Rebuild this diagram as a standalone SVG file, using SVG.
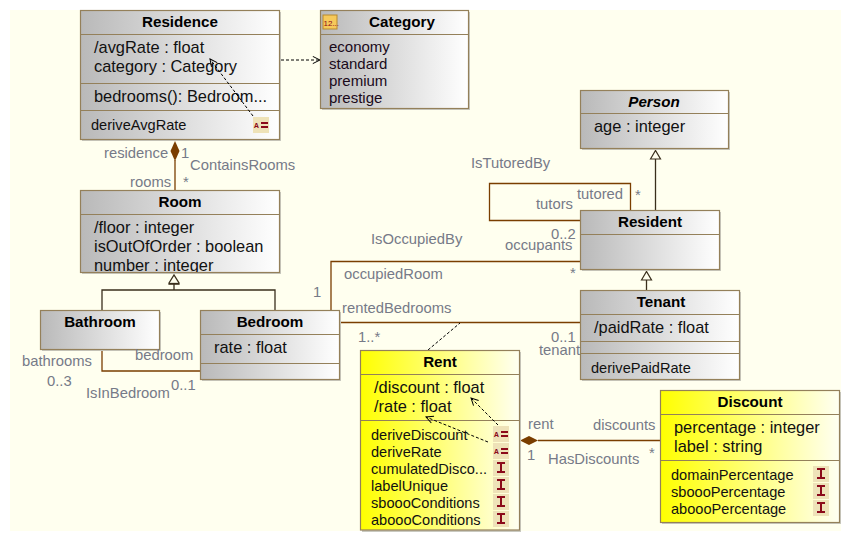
<svg xmlns="http://www.w3.org/2000/svg" width="851" height="541" viewBox="0 0 851 541">
<style>
text{font-family:"Liberation Sans",Arial,sans-serif}
.box{stroke:#94805a;stroke-width:1.2}
.gr{fill:url(#gray)}
.ye{fill:url(#yellow)}
.shadow{fill:#c9c9c0}
.div{stroke:#94805a;stroke-width:1.2;fill:none}
.title{font-size:15.200px;font-weight:bold;fill:#000;text-anchor:middle}
.attr{font-size:16.400px;fill:#111}
.enum{font-size:15px;fill:#1a0a1a}
.op{font-size:14.600px;fill:#111}
.lbl{font-size:14.800px;fill:#767a88}
.assoc{stroke:#7a3e00;stroke-width:1.3;fill:none}
.gen{stroke:#3a2f1c;stroke-width:1.3;fill:none}
.dash{stroke:#000;stroke-width:1;stroke-dasharray:3 2;fill:none}
.ic{fill:#eee2b8}
.icg{fill:none;stroke:#8b0a1a;stroke-width:2}
.ict{font-size:8px;font-weight:bold;fill:#8b0a1a;font-family:"Liberation Mono",monospace}
</style>
<defs>
<linearGradient id="gray"><stop offset="0" stop-color="#b9b9b9"/><stop offset="1" stop-color="#ffffff"/></linearGradient>
<linearGradient id="yellow"><stop offset="0" stop-color="#ffff00"/><stop offset="1" stop-color="#fffff2"/></linearGradient>
<marker id="open" viewBox="0 0 10 10" refX="9" refY="5" markerWidth="9" markerHeight="9" markerUnits="userSpaceOnUse" orient="auto"><path d="M1 1L9 5L1 9" fill="none" stroke="#000" stroke-width="1.1"/></marker>
<clipPath id="roomclip"><rect x="81" y="214" width="198" height="58"/></clipPath>
<g id="icA"><rect class="ic" width="16" height="16"/><text class="ict" x="1" y="11">A</text><path class="icg" d="M8 6h7M8 10h7"/></g>
<g id="icI"><rect class="ic" width="16" height="16"/><path class="icg" d="M4 3h8M8 3v9M4 12h8"/></g>
</defs>
<rect x="10" y="10" width="831" height="521" fill="#ffffef"/>

<g id="connectors">
<path class="assoc" d="M175 160V190"/>
<path d="M175 141L179.500 151L175 161L170.500 151Z" fill="#7a3e00"/>
<path class="dash" d="M281 60H320" marker-end="url(#open)"/>
<path class="gen" d="M174 284V290M102 310V290H275V310"/>
<path d="M169 283L174 275L179 283V284H169Z" fill="#ffffef" stroke="#3a2f1c" stroke-width="1.3"/>
<path class="gen" d="M169 283.500H179" stroke-width="2"/>
<path class="assoc" d="M102 350V371H200"/>
<path class="assoc" d="M331 310V261.500H580"/>
<path class="assoc" d="M340 322.500H580"/>
<path class="assoc" d="M580 220.500H489.500V183.500H630.500V210"/>
<path class="gen" d="M655.500 158V210"/>
<path d="M650.500 159L655.500 150.500L660.500 159Z" fill="#ffffef" stroke="#3a2f1c" stroke-width="1.2"/>
<path class="gen" d="M646.500 280V290"/>
<path d="M641.500 280L646.500 271.500L651.500 280Z" fill="#ffffef" stroke="#3a2f1c" stroke-width="1.2"/>
<path class="dash" d="M428 350L460 323"/>
<path class="assoc" d="M538 440.500H660"/>
<path d="M520 440.500L529 436L538 440.500L529 445Z" fill="#7a3e00"/>
</g>

<g id="residence">
<rect class="shadow" x="82" y="12" width="199" height="129"/>
<rect class="box gr" x="80.500" y="10.500" width="199" height="129"/>
<path class="div" d="M81 34.500H279M81 83.500H279M81 110.500H279"/>
<text class="title" x="180" y="27">Residence</text>
<text class="attr" x="94" y="53">/avgRate : float</text>
<text class="attr" x="94" y="72">category : Category</text>
<text class="attr" x="94" y="102">bedrooms(): Bedroom...</text>
<text class="op" x="91" y="130">deriveAvgRate</text>
<use href="#icA" x="253" y="117"/>
<path class="dash" d="M253 116L210 59" marker-end="url(#open)"/>
</g>

<g id="category">
<rect class="shadow" x="322" y="12" width="148" height="98"/>
<rect class="box gr" x="320.500" y="10.500" width="148" height="98"/>
<path class="div" d="M321 34.500H468"/>
<rect x="323" y="15" width="14" height="14" fill="#f6c95a" stroke="#b8892e"/>
<text x="323.500" y="25.500" font-size="8" fill="#8b0a1a">12...</text>
<text class="title" x="402" y="27">Category</text>
<text class="enum" x="329" y="52">economy</text>
<text class="enum" x="329" y="69">standard</text>
<text class="enum" x="329" y="86">premium</text>
<text class="enum" x="329" y="103">prestige</text>
</g>

<g id="person">
<rect class="shadow" x="582" y="92" width="148" height="58"/>
<rect class="box gr" x="580.500" y="90.500" width="148" height="58"/>
<path class="div" d="M581 113.500H728"/>
<text class="title" x="654" y="107" font-style="italic">Person</text>
<text class="attr" x="594" y="132">age : integer</text>
</g>

<g id="resident">
<rect class="shadow" x="582" y="212" width="139" height="59"/>
<rect class="box gr" x="580.500" y="210.500" width="139" height="59"/>
<path class="div" d="M581 234.500H719"/>
<text class="title" x="650" y="227">Resident</text>
</g>

<g id="room">
<rect class="shadow" x="82" y="192" width="199" height="82"/>
<rect class="box gr" x="80.500" y="190.500" width="199" height="82"/>
<path class="div" d="M81 214.500H279"/>
<text class="title" x="180" y="207">Room</text>
<g clip-path="url(#roomclip)">
<text class="attr" x="94" y="233">/floor : integer</text>
<text class="attr" x="94" y="252">isOutOfOrder : boolean</text>
<text class="attr" x="94" y="271">number : integer</text>
</g>
</g>

<g id="bathroom">
<rect class="shadow" x="42" y="312" width="119" height="39"/>
<rect class="box gr" x="40.500" y="310.500" width="119" height="39"/>
<text class="title" x="100" y="327">Bathroom</text>
</g>

<g id="bedroom">
<rect class="shadow" x="202" y="312" width="139" height="69"/>
<rect class="box gr" x="200.500" y="310.500" width="139" height="69"/>
<path class="div" d="M201 334.500H339M201 363.500H339"/>
<text class="title" x="270" y="327">Bedroom</text>
<text class="attr" x="214" y="353">rate : float</text>
</g>

<g id="tenant">
<rect class="shadow" x="582" y="292" width="159" height="89"/>
<rect class="box gr" x="580.500" y="290.500" width="159" height="89"/>
<path class="div" d="M581 314.500H739M581 341.500H739M581 353.500H739"/>
<text class="title" x="661" y="307">Tenant</text>
<text class="attr" x="594" y="333">/paidRate : float</text>
<text class="op" x="591" y="373">derivePaidRate</text>
</g>

<g id="rent">
<rect class="shadow" x="362" y="352" width="159" height="180"/>
<rect class="box ye" x="360.500" y="350.500" width="159" height="179.500"/>
<path class="div" d="M361 374.500H519M361 420.500H519"/>
<text class="title" x="440" y="367">Rent</text>
<text class="attr" x="374" y="393">/discount : float</text>
<text class="attr" x="374" y="412">/rate : float</text>
<text class="op" x="371" y="440">deriveDiscount</text>
<text class="op" x="371" y="457">deriveRate</text>
<text class="op" x="371" y="474">cumulatedDisco...</text>
<text class="op" x="371" y="491">labelUnique</text>
<text class="op" x="371" y="508">sboooConditions</text>
<text class="op" x="371" y="525">aboooConditions</text>
<use href="#icA" x="493" y="426"/>
<use href="#icA" x="493" y="443"/>
<use href="#icI" x="493" y="460"/>
<use href="#icI" x="493" y="477"/>
<use href="#icI" x="493" y="494"/>
<use href="#icI" x="493" y="511"/>
<path class="dash" d="M498 425L471 398" marker-end="url(#open)"/>
<path class="dash" d="M488 442L426 417" marker-end="url(#open)"/>
</g>

<g id="discount">
<rect class="shadow" x="662" y="392" width="179" height="132"/>
<rect class="box ye" x="660.500" y="390.500" width="179" height="132"/>
<path class="div" d="M661 414.500H839M661 460.500H839"/>
<text class="title" x="750" y="407">Discount</text>
<text class="attr" x="674" y="433">percentage : integer</text>
<text class="attr" x="674" y="452">label : string</text>
<text class="op" x="671" y="480">domainPercentage</text>
<text class="op" x="671" y="497">sboooPercentage</text>
<text class="op" x="671" y="514">aboooPercentage</text>
<use href="#icI" x="813" y="466"/>
<use href="#icI" x="813" y="483"/>
<use href="#icI" x="813" y="500"/>
</g>

<g id="labels">
<text class="lbl" x="104" y="158">residence</text>
<text class="lbl" x="181" y="158">1</text>
<text class="lbl" x="190" y="170">ContainsRooms</text>
<text class="lbl" x="130" y="187">rooms</text>
<text class="lbl" x="183" y="187">*</text>
<text class="lbl" x="471" y="168">IsTutoredBy</text>
<text class="lbl" x="577" y="199">tutored</text>
<text class="lbl" x="635" y="200">*</text>
<text class="lbl" x="536" y="209">tutors</text>
<text class="lbl" x="551" y="239">0..2</text>
<text class="lbl" x="505" y="250">occupants</text>
<text class="lbl" x="371" y="244">IsOccupiedBy</text>
<text class="lbl" x="344" y="279">occupiedRoom</text>
<text class="lbl" x="570" y="278">*</text>
<text class="lbl" x="313" y="297">1</text>
<text class="lbl" x="342" y="313">rentedBedrooms</text>
<text class="lbl" x="358" y="342">1..*</text>
<text class="lbl" x="551" y="342">0..1</text>
<text class="lbl" x="539" y="355">tenant</text>
<text class="lbl" x="22" y="366">bathrooms</text>
<text class="lbl" x="135" y="360">bedroom</text>
<text class="lbl" x="47" y="386">0..3</text>
<text class="lbl" x="171" y="390">0..1</text>
<text class="lbl" x="86" y="398">IsInBedroom</text>
<text class="lbl" x="528" y="429">rent</text>
<text class="lbl" x="593" y="430">discounts</text>
<text class="lbl" x="527" y="460">1</text>
<text class="lbl" x="548" y="464">HasDiscounts</text>
<text class="lbl" x="649" y="458">*</text>
</g>
</svg>
